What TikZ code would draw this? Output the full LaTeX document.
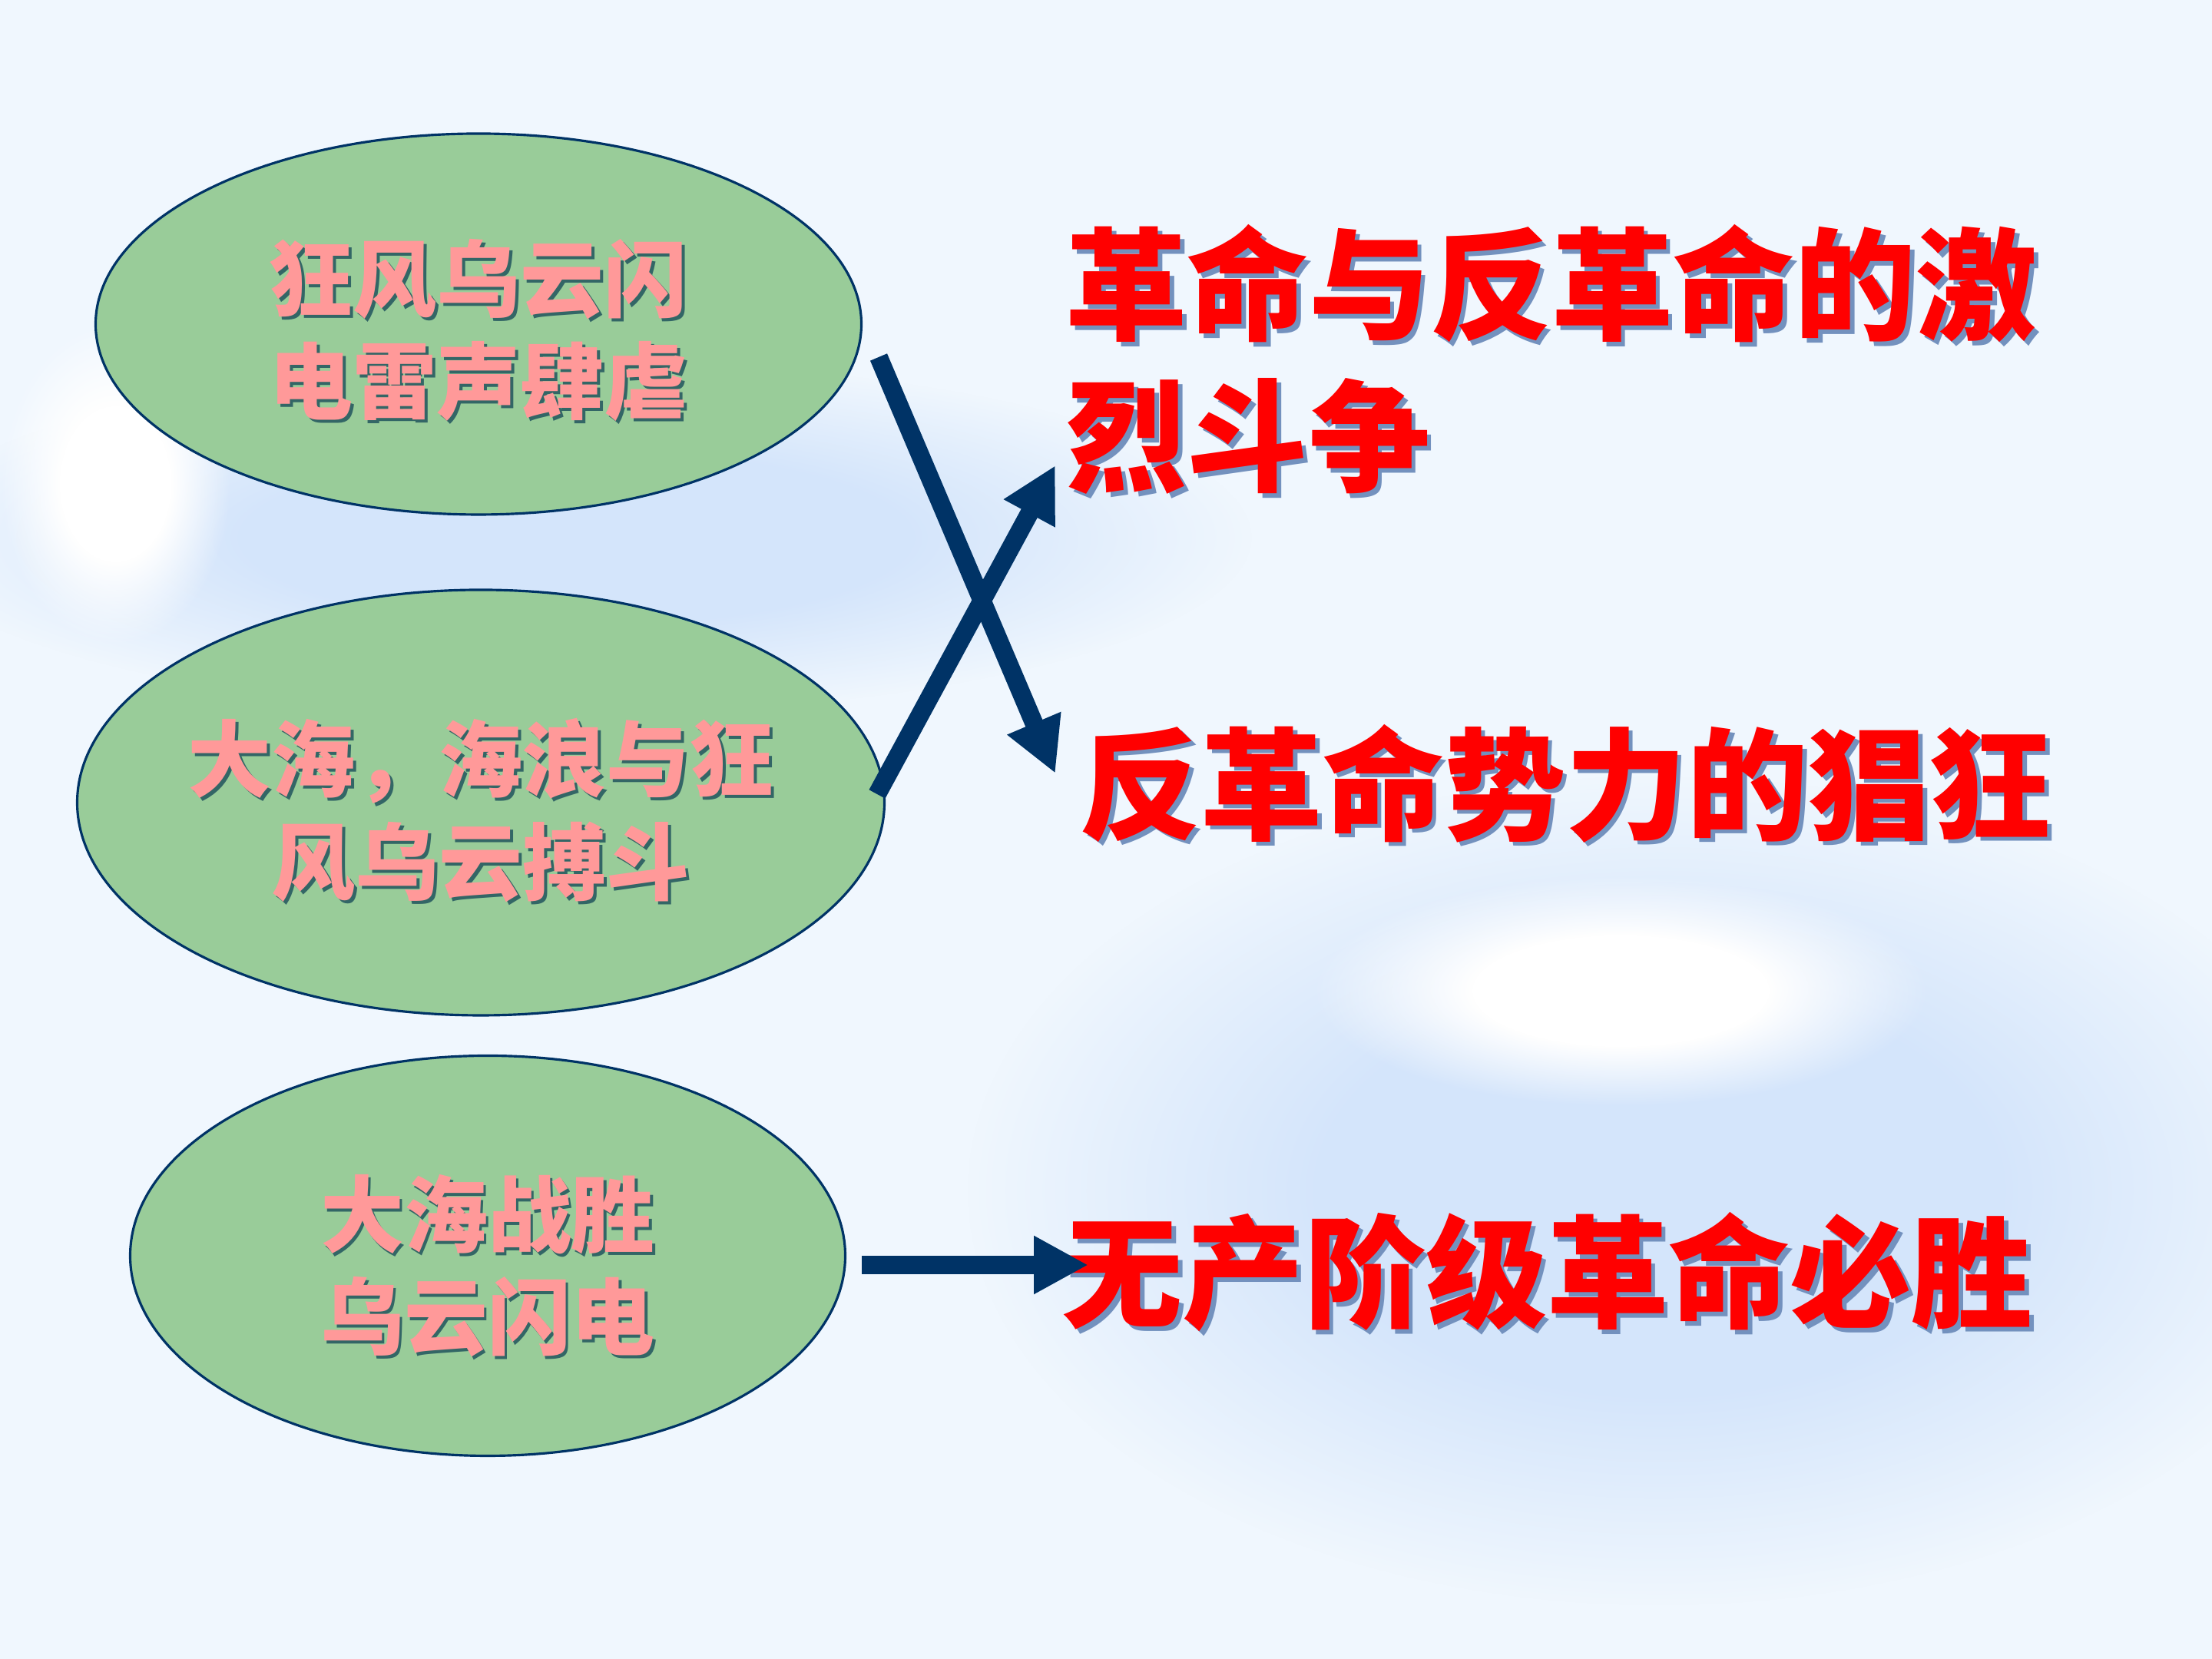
\documentclass[tikz,border=0pt]{standalone}
\usepackage{fontspec}
\usepackage{tikz}
\usetikzlibrary{arrows.meta,shapes.geometric,fadings}
\newfontfamily\cjk{Noto Sans CJK SC Black}
\definecolor{bgblue}{RGB}{240,247,254}
\definecolor{cloudblue}{RGB}{212,229,251}
\definecolor{leafgreen}{RGB}{153,204,153}
\definecolor{navy}{RGB}{0,51,102}
\definecolor{pinktext}{RGB}{255,153,153}
\definecolor{tealshadow}{RGB}{51,102,102}
\definecolor{redshadow}{RGB}{115,145,190}
% soft cloud: opaque core, blurred rim
\pgfdeclareradialshading{blobshade}{\pgfpointorigin}{color(0bp)=(white); color(12bp)=(white); color(25bp)=(black); color(50bp)=(black)}
\pgfdeclarefading{softblob}{\pgfuseshading{blobshade}}
% text with a small drop shadow
\newcommand\pinkline[1]{\makebox[0pt][l]{\kern1.1pt\raisebox{-1.1pt}{\color{tealshadow}#1}}#1}
\newcommand\redline[1]{\makebox[0pt][l]{\kern1.6pt\raisebox{-1.6pt}{\color{redshadow}#1}}#1}

\begin{document}
\begin{tikzpicture}[
 bubble/.style={ellipse,draw=navy,line width=0.9pt,fill=leafgreen,inner sep=0pt},
 pinkword/.style={align=center,text=pinktext,inner sep=0pt,font={\cjk\fontsize{31}{38}\selectfont}},
 redword/.style={anchor=west,align=left,text=red,inner sep=0pt,font={\cjk\fontsize{45}{56}\selectfont}},
 conn/.style={navy,line width=6.8pt,-{Triangle[length=7.1mm,width=7.1mm]}}]
 \useasboundingbox (0,0) rectangle (28.8,21.6);
 \fill[bgblue] (0,0) rectangle (28.8,21.6);
 % clouds
 \fill[cloudblue,path fading=softblob] (7.5,14.6) ellipse (8.8 and 2.3);
 \fill[white,path fading=softblob] (1.5,15.3) ellipse (1.5 and 2.1);
 \fill[cloudblue,path fading=softblob] (21.6,6.1) ellipse (9 and 5.4);
 \fill[white,path fading=softblob] (21.1,8.7) ellipse (4 and 1.5);

 % left bubbles
 \node[bubble,minimum width=9.97cm,minimum height=4.96cm] (storm) at (6.23,17.38) {};
 \node[bubble,minimum width=10.51cm,minimum height=5.54cm] (fight) at (6.26,11.15) {};
 \node[bubble,minimum width=9.31cm,minimum height=5.21cm] (win) at (6.35,5.25) {};
 \node[pinkword,yshift=-1mm] (stormtxt) at (storm) {\pinkline{狂风乌云闪}\\\pinkline{电雷声肆虐}};
 \node[pinkword,yshift=-1.2mm] (fighttxt) at (fight) {\pinkline{大海，海浪与狂}\\\pinkline{风乌云搏斗}};
 \node[pinkword,yshift=-1.5mm] (wintxt) at (win) {\pinkline{大海战胜}\\\pinkline{乌云闪电}};

 % right meanings
 \node[redword] (struggle) at (13.87,16.89) {\redline{革命与反革命的激}\\\redline{烈斗争}};
 \node[redword] (rampant) at (14.05,11.37) {\redline{反革命势力的猖狂}};
 \node[redword] (victory) at (13.81,5.01) {\redline{无产阶级革命必胜}};

 % arrows
 \coordinate (stormout) at (11.44,16.95);
 \coordinate (rampantin) at (13.74,11.53);
 \coordinate (fightout) at (11.42,11.26);
 \coordinate (strugglein) at (13.74,15.54);
 \coordinate (winout) at (11.22,5.13);
 \coordinate (victoryin) at (14.17,5.13);
 \draw[conn] (stormout) -- (rampantin);
 \draw[conn] (fightout) -- (strugglein);
 \draw[conn] (winout) -- (victoryin);
\end{tikzpicture}
\end{document}
